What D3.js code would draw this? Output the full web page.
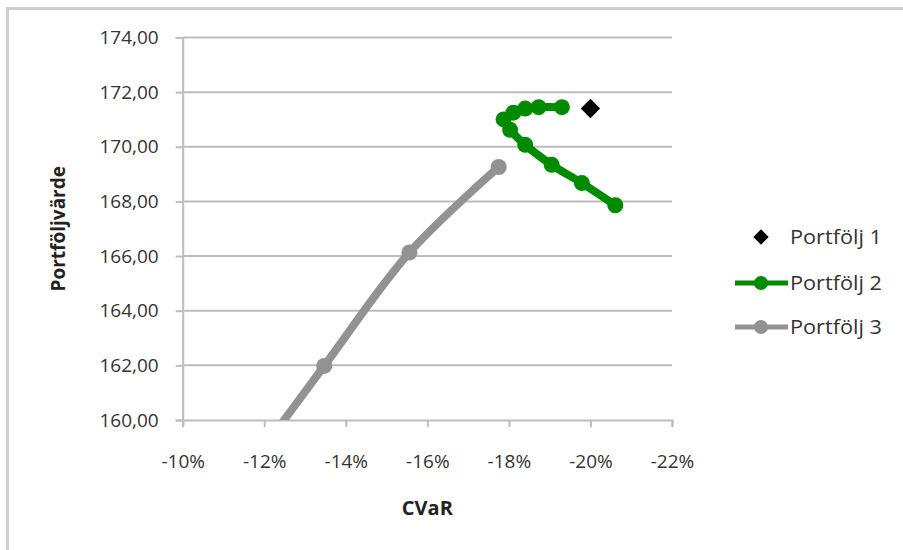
<!DOCTYPE html>
<html><head><meta charset="utf-8">
<script src="https://cdn.jsdelivr.net/npm/d3@7"></script>
<style>
body{margin:0;background:#fff;}
svg{display:block;font-family:"Open Sans",sans-serif;}
</style></head>
<body><svg id="c" width="903" height="550"></svg>
<script>
const xTicks = [-0.10,-0.12,-0.14,-0.16,-0.18,-0.20,-0.22];
const yTicks = [160,162,164,166,168,170,172,174];
const p1X = [-0.200];
const p1Y = [171.40];
const p2X = [-0.1930,-0.1873,-0.1840,-0.1811,-0.1787,-0.1803,-0.1840,-0.1905,-0.1979,-0.2061];
const p2Y = [171.45,171.45,171.40,171.25,171.00,170.62,170.07,169.34,168.67,167.86];
const p3X = [-0.1775,-0.1556,-0.1347,-0.1145];
const p3Y = [169.26,166.13,161.98,157.90];
const seriesNames = ["Portfölj 1","Portfölj 2","Portfölj 3"];

const svg = d3.select("#c");
const L=182.7, R=672, T=37.5, B=420;
const x = d3.scaleLinear().domain([-0.10,-0.22]).range([L,R]);
const y = d3.scaleLinear().domain([160,174]).range([B,T]);
const grid="#bdbdbd";

svg.append("rect").attr("x",7.5).attr("y",8.5).attr("width",905).attr("height",570)
  .attr("fill","none").attr("stroke","#cfcfcf").attr("stroke-width",3);

svg.append("g").selectAll("line").data(yTicks.slice(1)).join("line")
  .attr("x1",L).attr("x2",R).attr("y1",d=>y(d)).attr("y2",d=>y(d))
  .attr("stroke",grid).attr("stroke-width",2);

const fmtY = d=>d.toFixed(2).replace(".",",");
const fmtX = d=>Math.round(d*100)+"%";

const ya = svg.append("g").attr("transform",`translate(${L},0)`)
  .call(d3.axisLeft(y).tickValues(yTicks).tickFormat(fmtY).tickSize(7).tickPadding(17));
const xa = svg.append("g").attr("transform",`translate(0,${B})`)
  .call(d3.axisBottom(x).tickValues(xTicks).tickFormat(fmtX).tickSize(7).tickPadding(28));
[ya,xa].forEach(a=>{
  a.selectAll("path,line").attr("stroke",grid).attr("stroke-width",2);
  a.selectAll("text").attr("fill","#333").style("font-size","19px").style("font-family","Open Sans");
});

svg.append("clipPath").attr("id","pc").append("rect").attr("x",L).attr("y",T-20).attr("width",R-L+40).attr("height",B-T+20);

const line = d3.line().x(d=>x(d[0])).y(d=>y(d[1])).curve(d3.curveCatmullRom.alpha(0.5));
const p2 = p2X.map((v,i)=>[v,p2Y[i]]);
const p3 = p3X.map((v,i)=>[v,p3Y[i]]);
const g = svg.append("g").attr("clip-path","url(#pc)");
const gray="#929292", green="#008a00";
g.append("path").datum(p3).attr("d",line).attr("fill","none").attr("stroke",gray).attr("stroke-width",8).attr("stroke-linejoin","round");
g.selectAll(".m3").data(p3).join("circle").attr("cx",d=>x(d[0])).attr("cy",d=>y(d[1])).attr("r",8).attr("fill",gray);
g.append("path").datum(p2).attr("d",line).attr("fill","none").attr("stroke",green).attr("stroke-width",8).attr("stroke-linejoin","round");
g.selectAll(".m2").data(p2).join("circle").attr("cx",d=>x(d[0])).attr("cy",d=>y(d[1])).attr("r",8).attr("fill",green);
const dia = d3.symbol().type(d3.symbolDiamond2).size(240);
svg.selectAll(".m1").data(p1X.map((v,i)=>[v,p1Y[i]])).join("path")
  .attr("d",dia).attr("transform",d=>`translate(${x(d[0])},${y(d[1])})`).attr("fill","#000");

const lg = svg.append("g");
const ly=[237,283,327];
lg.append("path").attr("d",d3.symbol().type(d3.symbolDiamond2).size(150)).attr("transform",`translate(761,${ly[0]})`).attr("fill","#000");
[[green,1],[gray,2]].forEach(([c,i])=>{
  lg.append("line").attr("x1",735).attr("x2",788).attr("y1",ly[i]).attr("y2",ly[i]).attr("stroke",c).attr("stroke-width",5);
  lg.append("circle").attr("cx",761).attr("cy",ly[i]).attr("r",7).attr("fill",c);
});
lg.selectAll("text").data(seriesNames).join("text").attr("x",790).attr("y",(d,i)=>ly[i]).attr("dy","0.35em")
  .attr("fill","#333").style("font-size","20px").attr("textLength",92).attr("lengthAdjust","spacingAndGlyphs").text(d=>d);

svg.append("text").attr("x",(L+R)/2).attr("y",508).attr("dy","0.35em").attr("text-anchor","middle")
  .attr("fill","#222").style("font-size","20px").style("font-weight","bold").text("CVaR");
svg.append("text").attr("transform",`translate(58,${(T+B)/2}) rotate(-90)`).attr("dy","0.35em").attr("text-anchor","middle")
  .attr("fill","#222").style("font-size","19px").style("font-weight","bold").text("Portföljvärde");
</script></body></html>
